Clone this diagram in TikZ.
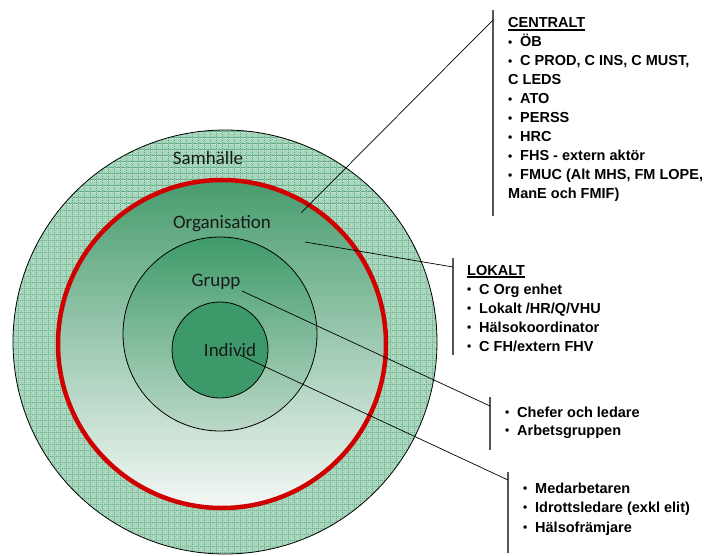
\documentclass[tikz,border=0pt]{standalone}
\usepackage{fontspec}
\setmainfont{Liberation Sans}
\newfontfamily\labelfont{Carlito}
\usetikzlibrary{calc}

\definecolor{samfill}{HTML}{A9D7BD}
\definecolor{samgrid}{HTML}{4FA276}
\definecolor{orgtop}{HTML}{479C6E}
\definecolor{orgbot}{HTML}{F5F8F6}
\definecolor{grptop}{HTML}{3E9A6A}
\definecolor{grpbot}{HTML}{BCD9C7}
\definecolor{indfill}{HTML}{3D9969}
\definecolor{redring}{HTML}{D00000}
\definecolor{bargray}{HTML}{555555}

% underlined heading with a heavier rule
\newcommand\hdr[1]{\setbox0\hbox{#1}\rlap{\rule[-2.6pt]{\wd0}{1.4pt}}\box0}
% small bullet followed by a fixed gap
\newcommand\bul{\makebox[12pt][l]{\raisebox{0.6pt}{\fontsize{12}{12}\selectfont•}}}

\tikzset{
  ring/.style={circle, inner sep=0pt, draw=black, line width=0.8pt},
  ringlabel/.style={font=\labelfont\fontsize{19}{19}\selectfont, anchor=base, inner sep=0pt, text=black!90},
  % multi-line callouts are placed by the baseline of their last line
  callout/.style={font=\bfseries\fontsize{14.5}{19}\selectfont, align=left, anchor=base west, inner sep=0pt},
  leader/.style={draw=black, line width=0.7pt},
  bar/.style={draw=bargray, line width=1.1pt},
}

\begin{document}
\begin{tikzpicture}[x=1pt,y=-1pt]
\useasboundingbox (0,0) rectangle (709,556);

\coordinate (cOuter) at (225,342);
\coordinate (cOrg) at (222,344);
\coordinate (cGrp) at (220,334);
\coordinate (cInd) at (220,350);

% Samhälle: textured outer disc
\begin{scope}
  \clip (cOuter) circle [radius=212pt];
  \fill[samfill] (cOuter) circle [radius=212pt];
  \draw[samgrid, line width=1pt, opacity=0.8] (6,558) grid[step=6pt] (444,126);
  \draw[white, opacity=0.45, line width=0.6pt, dash pattern=on 0.7pt off 1.3pt]
    (9,558) grid[step=6pt] (447,126);
\end{scope}
\node[ring, minimum size=424pt] (samhalle) at (cOuter) {};

% Organisation, Grupp, Individ
\node[circle, inner sep=0pt, minimum size=328pt, top color=orgtop, bottom color=orgbot,
      draw=redring, line width=4.5pt] (org) at (cOrg) {};
\node[ring, minimum size=194pt, top color=grptop, bottom color=grpbot] (grupp) at (cGrp) {};
\node[ring, minimum size=96pt, fill=indfill] (individ) at (cInd) {};

% circle labels
\node[ringlabel] (lSam) at (208,165) {Samhälle};
\node[ringlabel] (lOrg) at (222,228) {Organisation};
\node[ringlabel] (lGrp) at (216,286) {Grupp};
\node[ringlabel] (lInd) at (230,356) {Individ};

% callout texts
\node[callout] (central) at (508,199) {\hdr{CENTRALT}\\
  \bul ÖB\\
  \bul C PROD, C INS, C MUST,\\
  C LEDS\\
  \bul ATO\\
  \bul PERSS\\
  \bul HRC\\
  \bul FHS - extern aktör\\
  \bul FMUC (Alt MHS, FM LOPE,\\
  ManE och FMIF)};
\node[callout] (lokalt) at (467,351) {\hdr{LOKALT}\\
  \bul C Org enhet\\
  \bul Lokalt /HR/Q/VHU\\
  \bul Hälsokoordinator\\
  \bul C FH/extern FHV};
\node[callout, font=\bfseries\fontsize{14.5}{18}\selectfont] (chefer) at (505,435) {\bul Chefer och ledare\\
  \bul Arbetsgruppen};
\node[callout, font=\bfseries\fontsize{14.5}{19.5}\selectfont] (medarb) at (523,532) {\bul Medarbetaren\\
  \bul Idrottsledare (exkl elit)\\
  \bul Hälsofrämjare};

% brackets beside the callouts
\coordinate (bCenTop) at (493,10);
\coordinate (bCenBot) at (493,216);
\coordinate (bLokTop) at (453,258);
\coordinate (bLokBot) at (453,355);
\coordinate (bChTop) at (490,397);
\coordinate (bChBot) at (490,450);
\coordinate (bMeTop) at (508,472);
\coordinate (bMeBot) at (508,553);
\draw[bar] (bCenTop) -- (bCenBot);
\draw[bar] (bLokTop) -- (bLokBot);
\draw[bar] (bChTop) -- (bChBot);
\draw[bar] (bMeTop) -- (bMeBot);

% leader lines
\coordinate (pOrgA) at (301,213);
\coordinate (pOrgB) at (305,242);
\coordinate (pGrp) at (242,291);
\coordinate (pInd) at (240,355);
\coordinate (eCen) at (493,20);
\coordinate (eLok) at (453,267);
\coordinate (eCh) at (490,406);
\coordinate (eMe) at (508,480);
\draw[leader] (pOrgA) -- (eCen);
\draw[leader] (pOrgB) -- (eLok);
\draw[leader] (pGrp) -- (eCh);
\draw[leader] (pInd) -- (eMe);
\end{tikzpicture}
\end{document}
